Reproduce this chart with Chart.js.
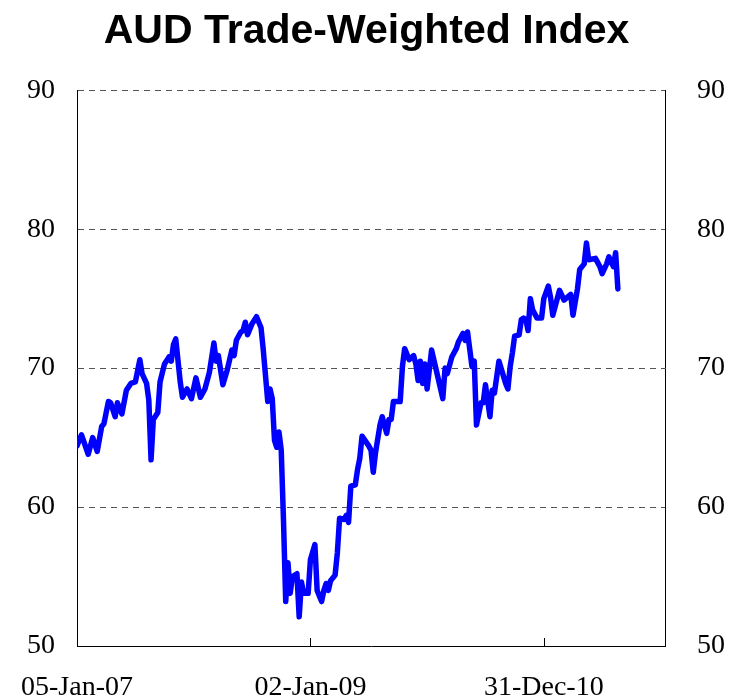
<!DOCTYPE html>
<html lang="en">
<head>
  <meta charset="UTF-8">
  <title>AUD Trade-Weighted Index</title>
  <script src="https://cdn.jsdelivr.net/npm/chart.js"></script>
  <style>
    body { margin: 0; background: #fff; }
    #chart { display: block; }
  </style>
</head>
<body>
  <canvas id="chart" width="733" height="698"></canvas>

  <script>
    // weeks since 05-Jan-07
    const weeks = [0, 2, 5, 7, 9, 11, 12, 14, 15, 17, 18, 20, 22, 24, 26, 28, 29, 31, 32, 33, 34, 36, 37, 39, 41, 42, 43, 44, 46, 47,
      49, 51, 53, 55, 57, 59, 61, 62, 63, 65, 67, 69, 70, 71, 73, 74, 75, 76, 78, 80, 82, 83, 85, 86, 87, 88, 89, 90, 91, 92,
      93, 94, 95, 96, 98, 99, 100, 101, 103, 104, 106, 107, 109, 110, 111, 112, 113, 115, 116, 117, 119, 120, 121, 122, 124, 125, 126, 127, 130, 131,
      132, 133, 135, 136, 138, 139, 140, 141, 144, 145, 146, 148, 150, 151, 152, 153, 154, 155, 156, 158, 160, 163, 164, 165, 167, 169, 170, 172, 173, 174,
      176, 177, 178, 180, 181, 182, 184, 185, 186, 188, 191, 192, 193, 194, 195, 197, 198, 199, 200, 201, 202, 203, 205, 207, 208, 210, 211, 212, 215, 217,
      220, 221, 223, 224, 226, 227, 228, 231, 233, 234, 236, 237, 239, 240, 241];
    const twi = [64.4, 65.2, 63.8, 65.0, 64.0, 65.8, 66.0, 67.6, 67.5, 66.5, 67.5, 66.7, 68.4, 68.9, 69.0, 70.6, 69.6, 68.9, 67.7, 63.4, 66.3, 66.8, 69.0, 70.3, 70.8, 70.5, 71.7, 72.1, 69.0, 67.9,
      68.5, 67.8, 69.3, 67.9, 68.5, 69.7, 71.8, 70.5, 70.9, 68.8, 69.9, 71.3, 70.9, 72.0, 72.6, 72.7, 73.3, 72.4, 73.2, 73.7, 72.9, 71.3, 67.6, 68.5, 67.8, 64.8, 64.3, 65.4, 64.1, 59.1,
      53.2, 56.0, 53.8, 55.0, 55.2, 52.1, 54.6, 53.8, 53.8, 56.2, 57.3, 54.0, 53.2, 54.0, 54.5, 54.0, 54.7, 55.1, 56.7, 59.2, 59.1, 59.4, 58.9, 61.5, 61.6, 62.7, 63.5, 65.1, 64.4, 64.1,
      62.5, 63.9, 65.9, 66.5, 65.3, 66.3, 66.3, 67.6, 67.6, 70.1, 71.4, 70.6, 70.9, 70.3, 69.1, 70.5, 68.9, 70.3, 68.5, 71.3, 69.9, 67.8, 70.0, 69.6, 70.8, 71.4, 71.9, 72.5, 72.0, 72.6,
      70.1, 70.5, 65.9, 67.5, 67.5, 68.8, 66.5, 68.4, 68.2, 70.5, 68.9, 68.5, 70.1, 71.1, 72.3, 72.4, 73.5, 73.6, 73.5, 72.7, 75.0, 74.2, 73.6, 73.6, 75.0, 75.9, 75.1, 73.8, 75.6, 74.9,
      75.3, 73.8, 75.7, 77.1, 77.5, 79.0, 77.8, 77.9, 77.3, 76.8, 77.5, 78.0, 77.3, 78.3, 75.7];

    const xTickWeeks = [0, 104, 208];
    const xTickLabels = ['05-Jan-07', '02-Jan-09', '31-Dec-10'];
    const yTicks = [50, 60, 70, 80, 90];

    // short tick marks pointing up into the plot on the date axis
    const innerTicks = {
      id: 'innerTicks',
      afterDatasetsDraw(chart) {
        const { ctx, scales: { x }, chartArea } = chart;
        ctx.save();
        ctx.strokeStyle = '#000';
        ctx.lineWidth = 1;
        xTickWeeks.forEach(w => {
          const px = Math.round(x.getPixelForValue(w)) + 0.5;
          ctx.beginPath();
          ctx.moveTo(px, chartArea.bottom);
          ctx.lineTo(px, chartArea.bottom - 8);
          ctx.stroke();
        });
        ctx.restore();
      }
    };

    const tickFont = { family: "'Liberation Serif', 'Times New Roman', serif", size: 28 };

    new Chart(document.getElementById('chart'), {
      type: 'line',
      data: {
        datasets: [{
          data: weeks.map((w, i) => ({ x: w, y: twi[i] })),
          borderColor: '#0000ff',
          borderWidth: 5.5,
          borderJoinStyle: 'round',
          borderCapStyle: 'round',
          pointRadius: 0,
          tension: 0,
          fill: false,
          yAxisID: 'y'
        }]
      },
      options: {
        responsive: false,
        animation: false,
        layout: { padding: 0 },
        plugins: {
          legend: { display: false },
          tooltip: { enabled: false },
          title: {
            display: true,
            text: 'AUD Trade-Weighted Index',
            color: '#000',
            font: { family: "'Liberation Sans', Arial, sans-serif", size: 41, weight: 'bold', lineHeight: 1.2 },
            padding: { top: 7, bottom: 34 }
          }
        },
        scales: {
          x: {
            type: 'linear',
            min: 0,
            max: 262,
            afterBuildTicks: s => { s.ticks = xTickWeeks.map(v => ({ value: v })); },
            afterFit: s => { s.height = 52; },
            grid: { display: false },
            border: { display: true, color: '#000', width: 1 },
            ticks: {
              autoSkip: false,
              maxRotation: 0,
              padding: 17,
              color: '#000',
              font: tickFont,
              callback: (v) => xTickLabels[xTickWeeks.indexOf(v)]
            }
          },
          y: {
            position: 'left',
            min: 50,
            max: 90,
            afterBuildTicks: s => { s.ticks = yTicks.map(v => ({ value: v })); },
            afterFit: s => { s.width = 77; },
            grid: { color: '#555', lineWidth: 1, drawTicks: false },
            border: { display: true, color: '#000', width: 1, dash: [6, 5] },
            ticks: { padding: 22, color: '#000', font: tickFont }
          },
          y2: {
            position: 'right',
            min: 50,
            max: 90,
            afterBuildTicks: s => { s.ticks = yTicks.map(v => ({ value: v })); },
            afterFit: s => { s.width = 68; },
            grid: { display: false, drawTicks: false },
            border: { display: true, color: '#000', width: 1 },
            ticks: { padding: 32, color: '#000', font: tickFont }
          }
        }
      },
      plugins: [innerTicks]
    });
  </script>
</body>
</html>
